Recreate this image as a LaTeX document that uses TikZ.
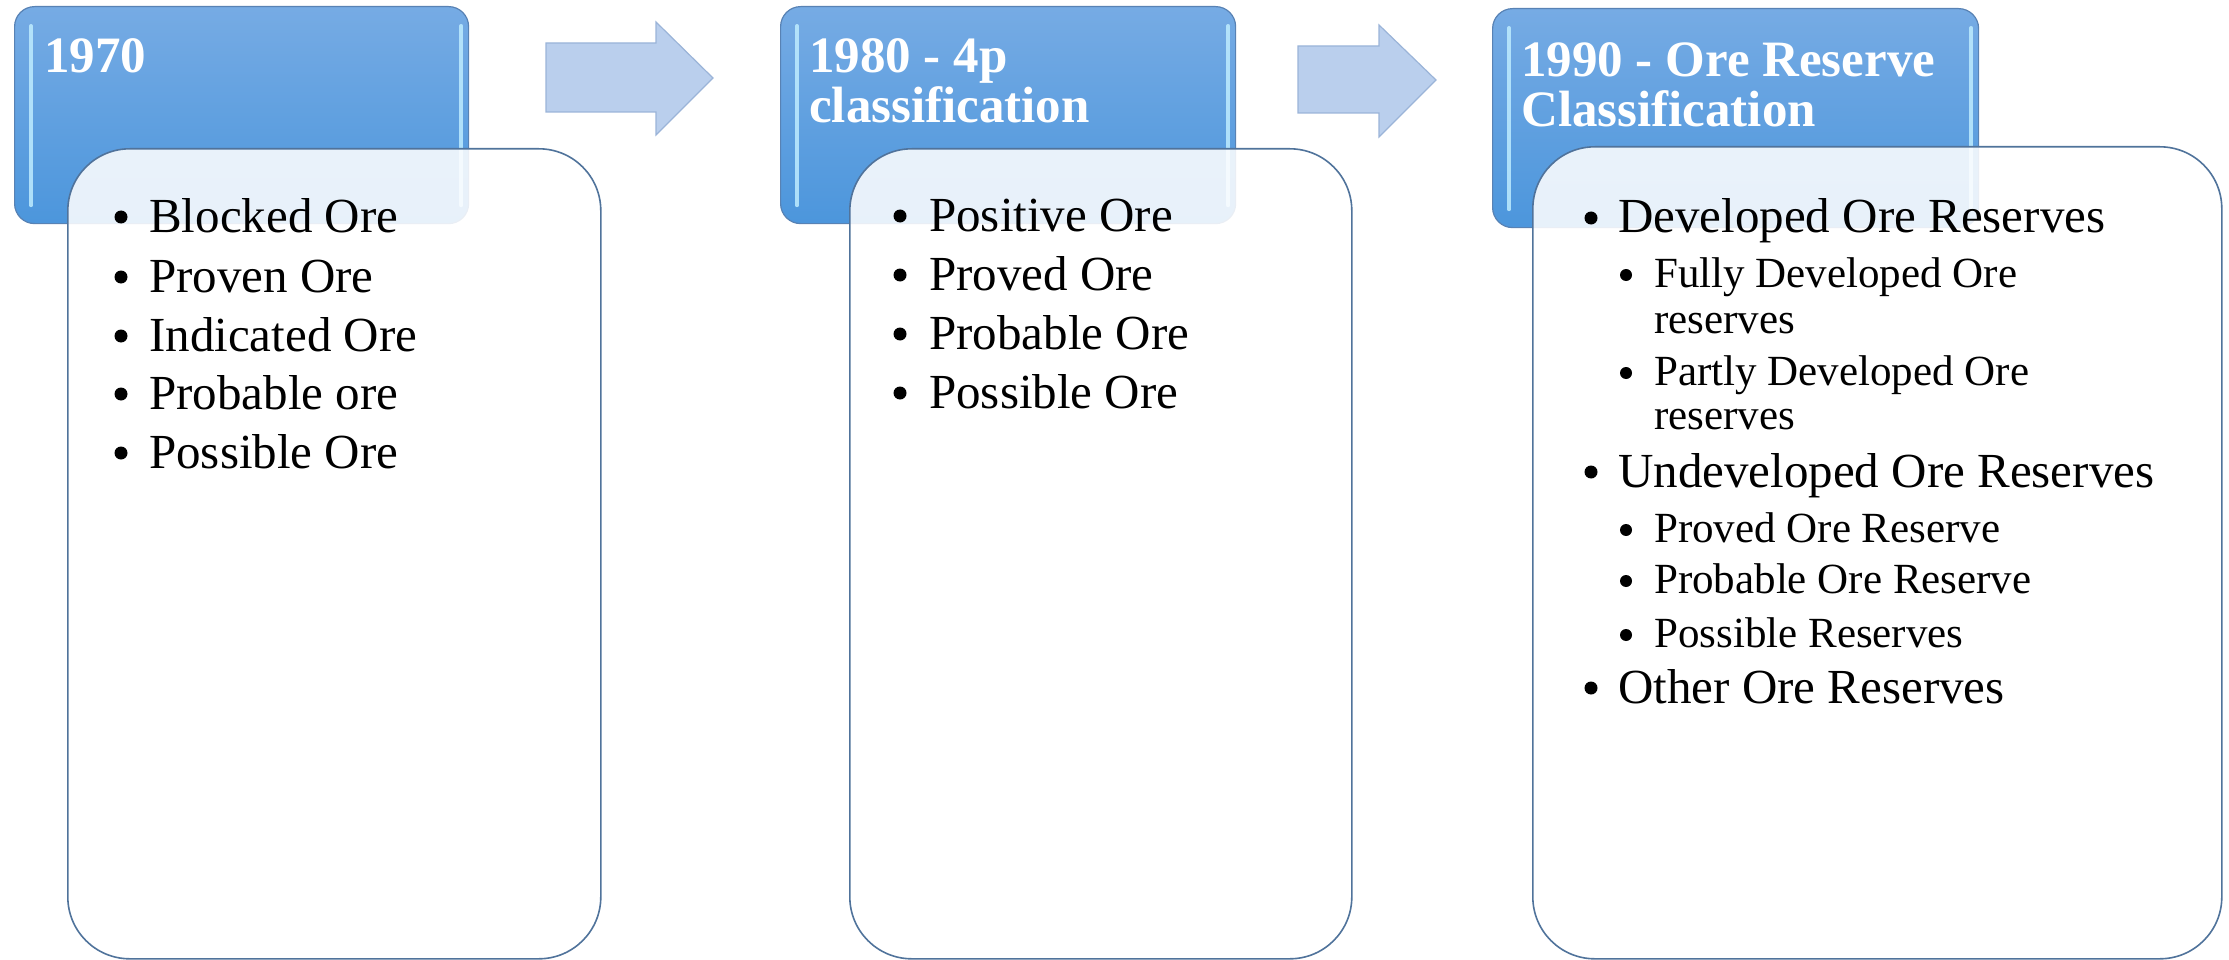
\documentclass[tikz,border=0pt]{standalone}
\usepackage{fontspec}
\setmainfont{Liberation Serif}
\definecolor{hdrTop}{RGB}{118,171,228}
\definecolor{hdrBot}{RGB}{76,150,220}
\definecolor{hdrLine}{RGB}{88,130,180}
\definecolor{hdrGlow}{RGB}{190,236,255}
\definecolor{arrFill}{RGB}{186,207,237}
\definecolor{arrLine}{RGB}{155,180,216}
\definecolor{bodyLine}{RGB}{80,115,155}
\tikzset{
  hdrbox/.style={rectangle, rounded corners=20pt, top color=hdrTop, bottom color=hdrBot,
    draw=hdrLine, line width=1.2pt, anchor=north west, inner sep=0pt},
  bodybox/.style={rectangle, rounded corners=62pt, fill=white, fill opacity=0.87,
    draw=bodyLine, line width=1.6pt, anchor=north west, inner sep=0pt},
  glow/.style={draw=hdrGlow, line width=4pt, line cap=round, opacity=0.85},
  blockarrow/.style={fill=arrFill, draw=arrLine, line width=1.2pt, line join=miter},
  hdrtext/.style={anchor=base west, inner sep=0pt, text=white, font=\fontsize{51}{51}\selectfont\bfseries},
  itemA/.style={anchor=base west, inner sep=0pt, font=\fontsize{49}{59}\selectfont},
  itemB/.style={anchor=base west, inner sep=0pt, font=\fontsize{43}{46}\selectfont},
  dotA/.style={fill=black},
}
\begin{document}
\begin{tikzpicture}[x=1pt,y=-1pt]
\useasboundingbox (0,0) rectangle (2229,960);
% ---------- headers ----------
\node[hdrbox, minimum width=454pt, minimum height=217pt] (h1) at (14,6) {};
\node[hdrbox, minimum width=455pt, minimum height=217pt] (h2) at (780,6) {};
\node[hdrbox, minimum width=486pt, minimum height=219pt] (h3) at (1492,8) {};
\foreach \h in {h1,h2,h3}{
  \draw[glow] ([xshift=17pt,yshift=-20pt]\h.north west) -- ([xshift=17pt,yshift=19pt]\h.south west);
  \draw[glow] ([xshift=-8pt,yshift=-20pt]\h.north east) -- ([xshift=-8pt,yshift=19pt]\h.south east);
}
% ---------- block arrows ----------
\draw[blockarrow] (546,43) -- (656,43) -- (656,22) -- (713,78) -- (656,135) -- (656,112) -- (546,112) -- cycle;
\draw[blockarrow] (1298,46) -- (1379,46) -- (1379,25) -- (1436,80) -- (1379,137) -- (1379,113) -- (1298,113) -- cycle;
% ---------- bodies ----------
\node[bodybox, minimum width=533pt, minimum height=810pt] (b1) at (67,148) {};
\node[bodybox, minimum width=502pt, minimum height=810pt] (b2) at (849,148) {};
\node[bodybox, minimum width=689pt, minimum height=812pt] (b3) at (1532,146) {};
% ---------- header texts ----------
\node[hdrtext] (t1) at (44,73) {1970};
\node[hdrtext] (t2a) at (809,73) {1980 - 4p};
\node[hdrtext] (t2b) at (809,123) {classification};
\node[hdrtext] (t3a) at (1521,77) {1990 - Ore Reserve};
\node[hdrtext] (t3b) at (1521,127) {Classification};
% ---------- box 1 items ----------
\foreach \y/\n/\t in {232/a/Blocked Ore, 292/b/Proven Ore, 351/c/Indicated Ore, 409/d/Probable ore, 468/e/Possible Ore}{
  \fill[dotA] (121,\y-15) circle (6.5);
  \node[itemA] (i1\n) at (149,\y) {\t};
}
% ---------- box 2 items ----------
\foreach \y/\n/\t in {231/a/Positive Ore, 290/b/Proved Ore, 349/c/Probable Ore, 408/d/Possible Ore}{
  \fill[dotA] (900,\y-15) circle (6.5);
  \node[itemA] (i2\n) at (929,\y) {\t};
}
% ---------- box 3 items ----------
\foreach \y/\n/\t in {233/a/Developed Ore Reserves, 487/b/Undeveloped Ore Reserves, 703/c/Other Ore Reserves}{
  \fill[dotA] (1591,\y-15) circle (6.5);
  \node[itemA] (i3\n) at (1618,\y) {\t};
}
\foreach \y/\n/\t in {287/a/Fully Developed Ore, 385/b/Partly Developed Ore, 542/c/Proved Ore Reserve, 593/d/Probable Ore Reserve, 647/e/Possible Reserves}{
  \fill[dotA] (1626,\y-12) circle (6);
  \node[itemB] (s3\n) at (1654,\y) {\t};
}
\node[itemB] (s3ar) at (1654,333) {reserves};
\node[itemB] (s3br) at (1654,429) {reserves};
\end{tikzpicture}
\end{document}
